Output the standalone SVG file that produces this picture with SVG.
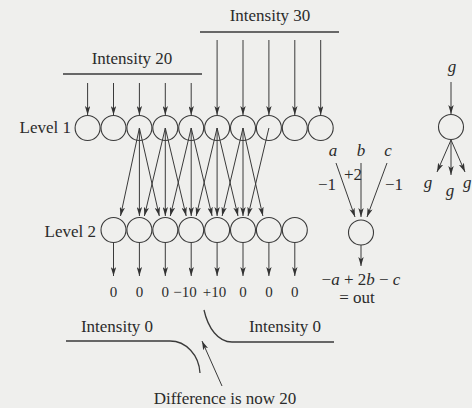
<svg xmlns="http://www.w3.org/2000/svg" width="472" height="408" viewBox="0 0 472 408">
<style>
text{font-family:"Liberation Serif","Times New Roman",serif;fill:#2b2b2b;font-size:17px}
.it{font-style:italic}
.num{font-size:15px}
.n{fill:none;stroke:#3a3a3a;stroke-width:1.1}
.ln{fill:none;stroke:#3a3a3a;stroke-width:1}
.ar{fill:none;stroke:#3a3a3a;stroke-width:1;marker-end:url(#ah)}
.hl{fill:none;stroke:#3a3a3a;stroke-width:1.3}
</style>
<defs>
<marker id="ah" viewBox="0 0 10 6" refX="10" refY="3" markerWidth="9" markerHeight="5.4" markerUnits="userSpaceOnUse" orient="auto">
<path d="M0,0 L10,3 L0,6 L2.5,3 z" fill="#333"/>
</marker>
</defs>
<rect width="472" height="408" fill="#efefed"/>

<g id="intensity-20">
<text x="132" y="64" text-anchor="middle">Intensity 20</text>
<line class="hl" x1="63" y1="74" x2="202" y2="74"/>
</g>
<g id="intensity-30">
<text x="270" y="21" text-anchor="middle">Intensity 30</text>
<line class="hl" x1="200" y1="32" x2="339" y2="32"/>
</g>

<g id="level1">
<text x="71" y="133" text-anchor="end">Level 1</text>
<circle class="n" cx="87.6" cy="128" r="12.5"/>
<circle class="n" cx="113.5" cy="128" r="12.5"/>
<circle class="n" cx="139.4" cy="128" r="12.5"/>
<circle class="n" cx="165.3" cy="128" r="12.5"/>
<circle class="n" cx="191.2" cy="128" r="12.5"/>
<circle class="n" cx="217.1" cy="128" r="12.5"/>
<circle class="n" cx="243" cy="128" r="12.5"/>
<circle class="n" cx="268.9" cy="128" r="12.5"/>
<circle class="n" cx="294.8" cy="128" r="12.5"/>
<circle class="n" cx="320.7" cy="128" r="12.5"/>
</g>

<g id="level2">
<text x="96" y="237" text-anchor="end">Level 2</text>
<circle class="n" cx="113.5" cy="230" r="12.5"/>
<circle class="n" cx="139.4" cy="230" r="12.5"/>
<circle class="n" cx="165.3" cy="230" r="12.5"/>
<circle class="n" cx="191.2" cy="230" r="12.5"/>
<circle class="n" cx="217.1" cy="230" r="12.5"/>
<circle class="n" cx="243" cy="230" r="12.5"/>
<circle class="n" cx="268.9" cy="230" r="12.5"/>
<circle class="n" cx="294.8" cy="230" r="12.5"/>
</g>

<g id="outputs">
<text class="num" x="113.5" y="297" text-anchor="middle">0</text>
<text class="num" x="139.4" y="297" text-anchor="middle">0</text>
<text class="num" x="165.3" y="297" text-anchor="middle">0</text>
<text class="num" x="185" y="297" text-anchor="middle">−10</text>
<text class="num" x="214.5" y="297" text-anchor="middle">+10</text>
<text class="num" x="243" y="297" text-anchor="middle">0</text>
<text class="num" x="268.9" y="297" text-anchor="middle">0</text>
<text class="num" x="294.8" y="297" text-anchor="middle">0</text>
</g>

<g id="combiner">
<text class="it" x="333" y="156" text-anchor="middle">a</text>
<text class="it" x="361" y="156" text-anchor="middle">b</text>
<text class="it" x="388" y="156" text-anchor="middle">c</text>
<text x="336" y="190" text-anchor="end">−1</text>
<text x="344" y="180">+2</text>
<text x="385" y="190">−1</text>
<circle class="n" cx="361" cy="232.5" r="12.5"/>
<text x="361" y="285" text-anchor="middle" font-size="18">−<tspan class="it">a</tspan> + 2<tspan class="it">b</tspan> − <tspan class="it">c</tspan></text>
<text x="357" y="303" text-anchor="middle">= out</text>
</g>

<g id="g-node">
<text class="it" x="452" y="72" text-anchor="middle">g</text>
<circle class="n" cx="451" cy="127" r="12.5"/>
<text class="it" x="428" y="188" text-anchor="middle">g</text>
<text class="it" x="450" y="196" text-anchor="middle">g</text>
<text class="it" x="471.5" y="188" text-anchor="end">g</text>
</g>

<g id="edge-curves">
<text x="117" y="332" text-anchor="middle">Intensity 0</text>
<text x="285" y="332" text-anchor="middle">Intensity 0</text>
<path class="hl" d="M66 341 H170 C186 341 199 355 200 373"/>
<path class="hl" d="M204 310 C208 328 218 342 232 342 H334"/>
<text x="225" y="404" text-anchor="middle">Difference is now 20</text>
</g>

<g id="connectors">
<line class="ar" x1="87.6" y1="83" x2="87.6" y2="115"/>
<line class="ar" x1="113.5" y1="83" x2="113.5" y2="115"/>
<line class="ar" x1="139.4" y1="83" x2="139.4" y2="115"/>
<line class="ar" x1="165.3" y1="83" x2="165.3" y2="115"/>
<line class="ar" x1="191.2" y1="83" x2="191.2" y2="115"/>
<line class="ar" x1="217.1" y1="40" x2="217.1" y2="115"/>
<line class="ar" x1="243" y1="40" x2="243" y2="115"/>
<line class="ar" x1="268.9" y1="40" x2="268.9" y2="115"/>
<line class="ar" x1="294.8" y1="40" x2="294.8" y2="115"/>
<line class="ar" x1="320.7" y1="40" x2="320.7" y2="115"/>
<line class="ar" x1="139.4" y1="128" x2="120.5" y2="216"/>
<line class="ar" x1="139.4" y1="128" x2="139.4" y2="216"/>
<line class="ar" x1="139.4" y1="128" x2="159.3" y2="216"/>
<line class="ar" x1="165.3" y1="128" x2="144.4" y2="216"/>
<line class="ar" x1="165.3" y1="128" x2="165.3" y2="216"/>
<line class="ar" x1="165.3" y1="128" x2="186.2" y2="216"/>
<line class="ar" x1="191.2" y1="128" x2="170.3" y2="216"/>
<line class="ar" x1="191.2" y1="128" x2="191.2" y2="216"/>
<line class="ar" x1="191.2" y1="128" x2="212.1" y2="216"/>
<line class="ar" x1="217.1" y1="128" x2="196.2" y2="216"/>
<line class="ar" x1="217.1" y1="128" x2="217.1" y2="216"/>
<line class="ar" x1="217.1" y1="128" x2="238" y2="216"/>
<line class="ar" x1="243" y1="128" x2="222.1" y2="216"/>
<line class="ar" x1="243" y1="128" x2="243" y2="216"/>
<line class="ar" x1="243" y1="128" x2="262.9" y2="216"/>
<line class="ar" x1="268.9" y1="128" x2="248" y2="216"/>
<line class="ar" x1="113.5" y1="242.5" x2="113.5" y2="276"/>
<line class="ar" x1="139.4" y1="242.5" x2="139.4" y2="276"/>
<line class="ar" x1="165.3" y1="242.5" x2="165.3" y2="276"/>
<line class="ar" x1="191.2" y1="242.5" x2="191.2" y2="276"/>
<line class="ar" x1="217.1" y1="242.5" x2="217.1" y2="276"/>
<line class="ar" x1="243" y1="242.5" x2="243" y2="276"/>
<line class="ar" x1="268.9" y1="242.5" x2="268.9" y2="276"/>
<line class="ar" x1="294.8" y1="242.5" x2="294.8" y2="276"/>
<line class="ar" x1="336" y1="163" x2="355" y2="217"/>
<line class="ar" x1="361" y1="163" x2="361" y2="217"/>
<line class="ar" x1="387" y1="163" x2="367" y2="217"/>
<line class="ar" x1="361" y1="245" x2="361" y2="266"/>
<line class="ar" x1="451" y1="82" x2="451" y2="114"/>
<line class="ar" x1="451" y1="140" x2="437" y2="172"/>
<line class="ar" x1="451" y1="140" x2="451" y2="175"/>
<line class="ar" x1="451" y1="140" x2="465" y2="172"/>
<line class="ar" x1="222" y1="386" x2="202" y2="341"/>
</g>
</svg>
